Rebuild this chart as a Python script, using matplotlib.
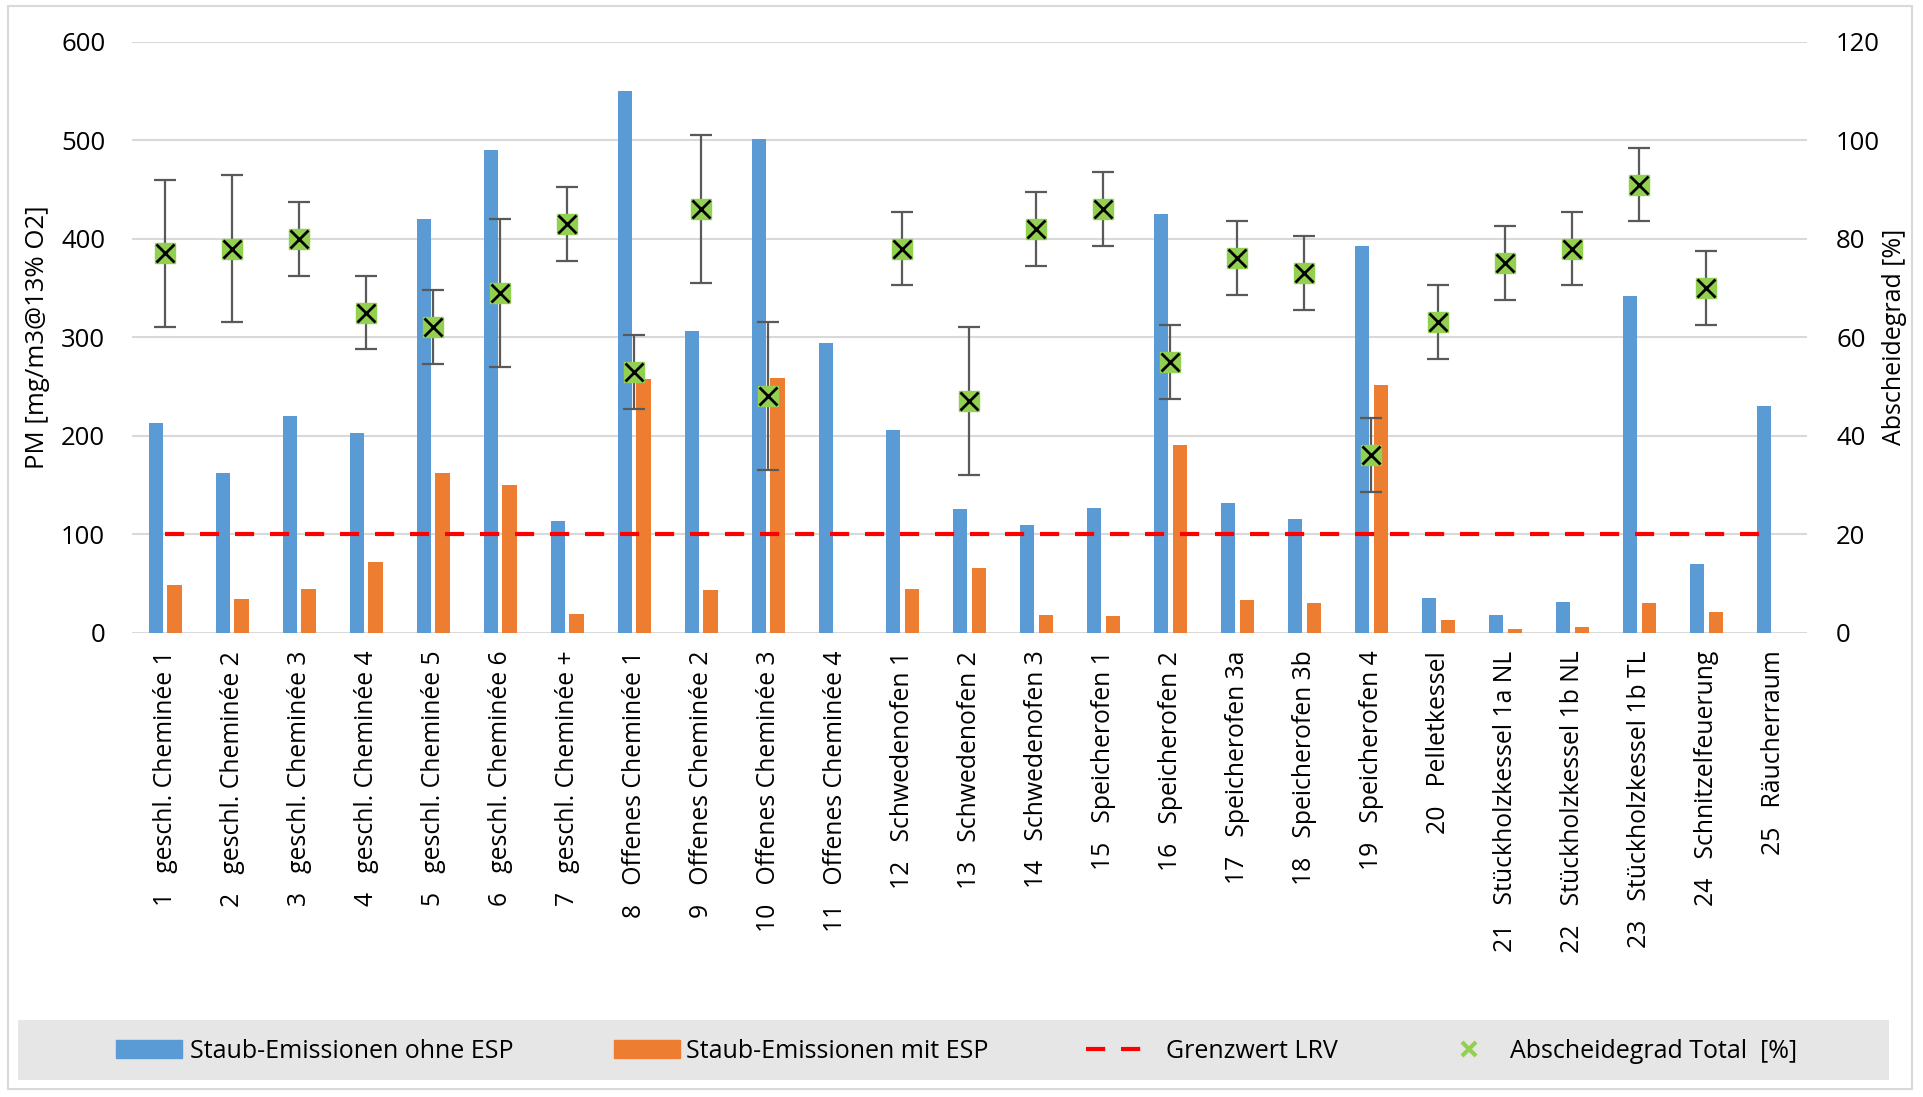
import matplotlib
matplotlib.use("Agg")
import matplotlib.pyplot as plt
from matplotlib.patches import Patch, Rectangle
from matplotlib.lines import Line2D
import numpy as np

plt.rcParams['font.family'] = ['Open Sans', 'DejaVu Sans']

# Messpunkte (Nr. + Anlage)
anlagen = [
    "1   geschl. Cheminée 1", "2   geschl. Cheminée 2", "3   geschl. Cheminée 3",
    "4   geschl. Cheminée 4", "5   geschl. Cheminée 5", "6   geschl. Cheminée 6",
    "7   geschl. Cheminée +", "8   Offenes Cheminée 1", "9   Offenes Cheminée 2",
    "10   Offenes Cheminée 3", "11   Offenes Cheminée 4", "12   Schwedenofen 1",
    "13   Schwedenofen 2", "14   Schwedenofen 3", "15   Speicherofen 1",
    "16   Speicherofen 2", "17   Speicherofen 3a", "18   Speicherofen 3b",
    "19   Speicherofen 4", "20   Pelletkessel", "21   Stückholzkessel 1a NL",
    "22   Stückholzkessel 1b NL", "23   Stückholzkessel 1b TL", "24   Schnitzelfeuerung",
    "25   Räucherraum",
]

# Staub in mg/m3 @13% O2
ohne_esp = [213, 162, 220, 203, 420, 490, 113, 550, 306, 501, 294, 206, 126,
            109, 127, 425, 132, 115, 393, 35, 18, 31, 342, 70, 230]
mit_esp = [48, 34, 44, 72, 162, 150, 19, 258, 43, 259, np.nan, 44, 66,
           18, 17, 190, 33, 30, 251, 13, 4, 6, 30, 21, np.nan]

# Abscheidegrad in % mit Streuung
abscheidegrad = [77, 78, 80, 65, 62, 69, 83, 53, 86, 48, np.nan, 78, 47,
                 82, 86, 55, 76, 73, 36, 63, 75, 78, 91, 70, np.nan]
streuung = [15, 15, 7.5, 7.5, 7.5, 15, 7.5, 7.5, 15, 15, np.nan, 7.5, 15,
            7.5, 7.5, 7.5, 7.5, 7.5, 7.5, 7.5, 7.5, 7.5, 7.5, 7.5, np.nan]

grenzwert = 100

BLAU = '#5B9BD5'
ORANGE = '#ED7D31'
GRUEN = '#92D050'
ROT = '#FF0000'
GRAU = '#D9D9D9'

W, H = 1923, 1097
fig = plt.figure(figsize=(W / 100, H / 100), dpi=100)
ax = fig.add_axes([131.7 / W, 1 - 632.6 / H, (1807 - 131.7) / W, (632.6 - 41.7) / H])

x = np.arange(len(anlagen))
b = 0.215
ax.bar(x - 0.14, ohne_esp, width=b, color=BLAU, zorder=2)
ax.bar(x + 0.14, mit_esp, width=b, color=ORANGE, zorder=2)
ax.plot(x, [grenzwert] * len(x), color=ROT, lw=3, dashes=(4.6, 3.8), zorder=3)

ax.set_xlim(-0.5, len(x) - 0.5)
ax.set_ylim(0, 600)
ax.set_yticks(range(0, 601, 100))
ax.yaxis.grid(True, color=GRAU, lw=1.5, zorder=0)
ax.set_axisbelow(True)
for s in ax.spines.values():
    s.set_visible(False)
ax.tick_params(axis='both', length=0)
ax.tick_params(axis='y', labelsize=18.5, pad=19, labelcolor='#000000')
ax.set_xticks(x)
ax.set_xticklabels(anlagen, rotation=90, fontsize=17.8, va='top', ha='center')
ax.tick_params(axis='x', pad=13)
ax.set_ylabel("PM [mg/m3@13% O2]", fontsize=18.5)
ax.yaxis.set_label_coords(-0.049, 0.5)

ax2 = ax.twinx()
ax2.set_ylim(0, 120)
ax2.set_yticks(range(0, 121, 20))
for s in ax2.spines.values():
    s.set_visible(False)
ax2.tick_params(axis='y', length=0, labelsize=18.5, pad=21)
ax2.errorbar(x, abscheidegrad, yerr=streuung, fmt='none', ecolor='#595959',
             elinewidth=1.6, capsize=8, capthick=1.6, zorder=4)
ax2.plot(x, abscheidegrad, ls='none', marker='s', ms=15, mfc=GRUEN, mec=GRUEN, zorder=5)
ax2.plot(x, abscheidegrad, ls='none', marker='x', ms=13.5, mec='black', mew=2, zorder=6)
ax2.set_ylabel("Abscheidegrad [%]", fontsize=18)
ax2.yaxis.set_label_coords(1.045, 0.5)

# Rahmen und Legendenhintergrund
fig.patches.append(Rectangle((8 / W, 1 - 1089 / H), (1912 - 8) / W, (1089 - 6) / H,
                             transform=fig.transFigure, fill=False, ec=GRAU, lw=1.5))
fig.patches.append(Rectangle((18 / W, 1 - 1080 / H), (1889 - 18) / W, 60 / H,
                             transform=fig.transFigure, fc='#E6E6E6', ec='none'))

eintraege = [
    (Patch(color=BLAU), "Staub-Emissionen ohne ESP", 116, 2.64, 0.3),
    (Patch(color=ORANGE), "Staub-Emissionen mit ESP", 614, 2.64, 0.25),
    (Line2D([], [], color=ROT, lw=3, dashes=(4.6, 3.8)), "Grenzwert LRV", 1086, 2.24, 0.96),
    (Line2D([], [], ls='none', marker='x', ms=10.5, mew=3, color=GRUEN),
     "Abscheidegrad Total  [%]", 1456, 1.0, 1.16),
]
for h, lab, x0, hl, tp in eintraege:
    fig.legend([h], [lab], loc='center left', bbox_to_anchor=(x0 / W, 1 - 1051 / H),
               frameon=False, fontsize=18, borderpad=0, borderaxespad=0,
               handlelength=hl, handletextpad=tp, handleheight=0.7)

fig.savefig("out.png", dpi=100)
